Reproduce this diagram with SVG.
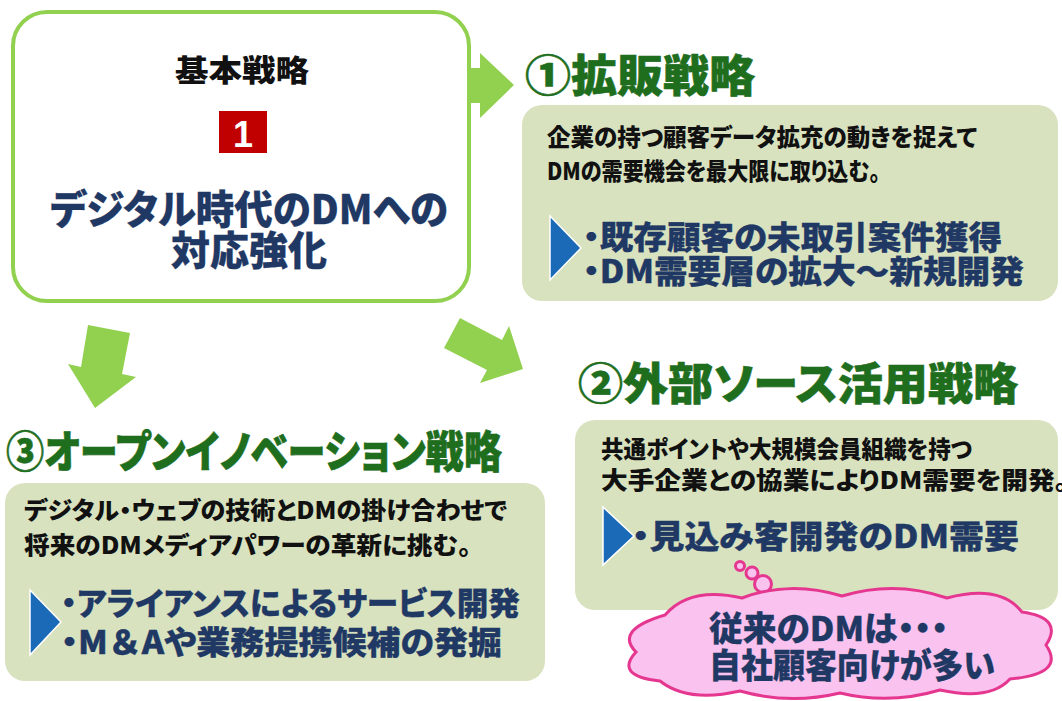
<svg xmlns="http://www.w3.org/2000/svg" width="1062" height="701" viewBox="0 0 1062 701">
<style>
text{font-family:"Noto Sans CJK JP","Noto Sans",sans-serif;font-weight:900;font-feature-settings:"palt";stroke-linejoin:round;}
.hd{fill:#1e6e1e;stroke:#1e6e1e;stroke-width:0.6;font-size:44px;}
.body{fill:#111;font-size:24px;}
.blt{fill:#1f3864;stroke:#1f3864;stroke-width:0.3;font-size:32px;}
.navy{fill:#1f3864;stroke:#1f3864;stroke-width:0.3;}
.box{fill:#d8e2bf;}
.tri{fill:#1b6ab7;stroke:#fff;stroke-width:1.5;}
.arr{fill:#92d050;}
.pink{fill:#f9c2ef;stroke:#e5378f;stroke-width:3;}
.nopalt{font-feature-settings:normal;}
</style>
<rect width="1062" height="701" fill="#fff"/>

<g id="connectors">
<polygon class="arr" points="441,68 480,68 480,53 514,85 480,118 480,103 441,103"/>
<polygon class="arr" points="88,325 130,333 122,374 136,377 95,408 68,364 81,367"/>
<polygon class="arr" points="460,318 502,340 509,326 523,369 480,383 487,370 444,348"/>
</g>

<g id="basic-strategy">
<rect x="13" y="12" width="456" height="289" rx="34" fill="#fff" stroke="#92d050" stroke-width="4"/>
<text x="175" y="81" font-size="30" fill="#111" textLength="134" lengthAdjust="spacingAndGlyphs">基本戦略</text>
<rect x="219" y="111" width="48" height="42" fill="#c00000"/>
<text x="243" y="147" font-size="36" fill="#fff" text-anchor="middle" style="font-family:'Liberation Sans',Arial,sans-serif;font-weight:700">1</text>
<text class="navy" font-size="40"><tspan x="50" y="224" textLength="398" lengthAdjust="spacingAndGlyphs">デジタル時代のDMへの</tspan><tspan x="171" y="265" textLength="156" lengthAdjust="spacingAndGlyphs">対応強化</tspan></text>
</g>

<g id="strategy-1">
<text class="hd" x="525" y="92" textLength="230" lengthAdjust="spacingAndGlyphs">①拡販戦略</text>
<rect class="box" x="522" y="105" width="536" height="196" rx="20"/>
<text class="body"><tspan x="547" y="146" textLength="430" lengthAdjust="spacingAndGlyphs">企業の持つ顧客データ拡充の動きを捉えて</tspan><tspan x="547" y="180" textLength="333" lengthAdjust="spacingAndGlyphs">DMの需要機会を最大限に取り込む。</tspan></text>
<polygon class="tri" points="550,216 581,248 550,280"/>
<text class="blt"><tspan x="583" y="249" textLength="419" lengthAdjust="spacingAndGlyphs">・既存顧客の未取引案件獲得</tspan><tspan x="583" y="283" textLength="441" lengthAdjust="spacingAndGlyphs">・DM需要層の拡大～新規開発</tspan></text>
</g>

<g id="strategy-2">
<text class="hd" x="578" y="400" textLength="440" lengthAdjust="spacingAndGlyphs">②外部ソース活用戦略</text>
<rect class="box" x="575" y="420" width="483" height="190" rx="20"/>
<text class="body"><tspan x="601" y="458" textLength="371" lengthAdjust="spacingAndGlyphs">共通ポイントや大規模会員組織を持つ</tspan><tspan x="601" y="489" textLength="467" lengthAdjust="spacingAndGlyphs">大手企業との協業によりDM需要を開発。</tspan></text>
<polygon class="tri" points="603,507 634,536 603,565"/>
<text class="blt" x="632" y="548" textLength="387" lengthAdjust="spacingAndGlyphs">・見込み客開発のDM需要</text>
</g>

<g id="strategy-3">
<text class="hd" x="6" y="468" textLength="496" lengthAdjust="spacingAndGlyphs">③オープンイノベーション戦略</text>
<rect class="box" x="5" y="483" width="540" height="198" rx="20"/>
<text class="body"><tspan x="24" y="519" textLength="483" lengthAdjust="spacingAndGlyphs">デジタル・ウェブの技術とDMの掛け合わせで</tspan><tspan x="24" y="554" textLength="447" lengthAdjust="spacingAndGlyphs">将来のDMメディアパワーの革新に挑む。</tspan></text>
<polygon class="tri" points="30,590 61,622 30,655"/>
<text class="blt"><tspan x="61" y="615" textLength="459" lengthAdjust="spacingAndGlyphs">・アライアンスによるサービス開発</tspan><tspan x="61" y="654" textLength="441" lengthAdjust="spacingAndGlyphs">・<tspan class="nopalt">M＆A</tspan>や業務提携候補の発掘</tspan></text>
</g>

<g id="thought-cloud">
<circle class="pink" cx="740" cy="566" r="4.5" stroke-width="2.5"/>
<circle class="pink" cx="752" cy="573" r="6" stroke-width="2.5"/>
<circle class="pink" cx="763" cy="584" r="8.5" stroke-width="2.5"/>
<path class="pink" d="M665,615 Q690,586 742,598 Q790,580 842,596 Q895,580 947,598 Q1000,584 1022,612 Q1064,618 1046,645 Q1066,674 1010,679 Q990,701 940,690 Q890,705 840,693 Q790,705 740,691 Q688,703 660,681 Q614,676 636,652 Q614,630 665,615 Z"/>
<text class="navy" font-size="34"><tspan x="709" y="641" textLength="239" lengthAdjust="spacingAndGlyphs">従来のDMは・・・</tspan><tspan x="709" y="678" textLength="286" lengthAdjust="spacingAndGlyphs">自社顧客向けが多い</tspan></text>
</g>
</svg>
